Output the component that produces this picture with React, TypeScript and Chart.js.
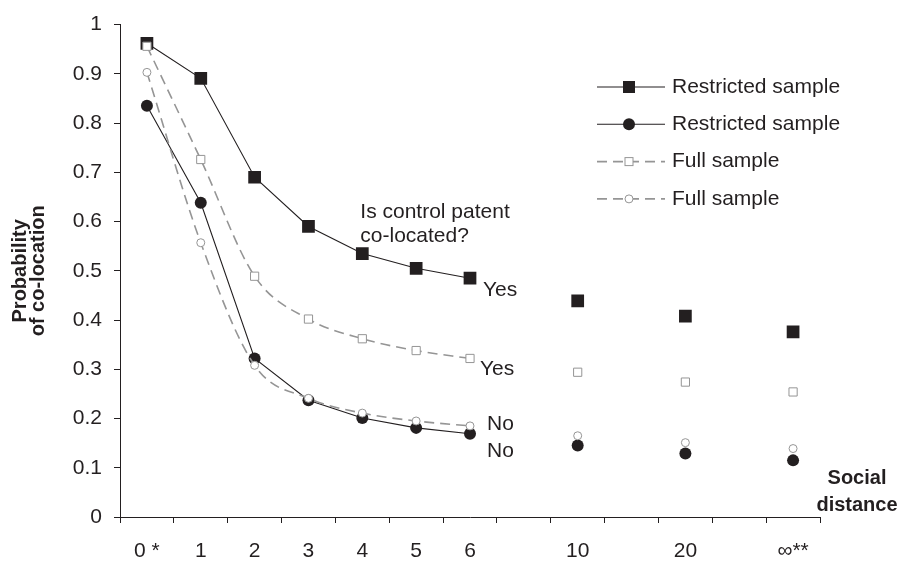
import React, { useEffect, useRef } from 'react';
import { Chart, registerables } from 'chart.js';

Chart.register(...registerables);

// social distance categories; blank entries are the breaks between 6/10/20/inf
const distanceLabels = ['0 *', '1', '2', '3', '4', '5', '6', '', '10', '', '20', '', '∞**'];

const restrictedYes = [0.962, 0.891, 0.69, 0.59, 0.535, 0.505, 0.485, null, 0.439, null, 0.408, null, 0.376];
const restrictedNo = [0.835, 0.638, 0.322, 0.237, 0.201, 0.181, 0.169, null, 0.145, null, 0.129, null, 0.115];
const fullYes = [0.956, 0.726, 0.489, 0.402, 0.362, 0.338, 0.322, null, 0.294, null, 0.274, null, 0.254];
const fullNo = [0.903, 0.557, 0.308, 0.241, 0.211, 0.195, 0.185, null, 0.165, null, 0.151, null, 0.139];

const legendLabels = ['Restricted sample', 'Restricted sample', 'Full sample', 'Full sample'];
const yTitle = ['Probability', 'of co-location'];
const xTitle = ['Social', 'distance'];
const questionText = ['Is control patent', 'co-located?'];

const FONT = "'Liberation Sans', Arial, Helvetica, sans-serif";
const INK = '#231f20';
const GREY = '#959595';
const DASH = [10, 6];

const fmtTick = (v: number | string) => String(Number(Number(v).toFixed(1)));

const drawMarker = (ctx: CanvasRenderingContext2D, kind: string, x: number, y: number) => {
  ctx.save();
  ctx.setLineDash([]);
  if (kind === 'rectFilled') {
    ctx.fillStyle = INK;
    ctx.fillRect(x - 6, y - 6, 12, 12);
  } else if (kind === 'circleFilled') {
    ctx.fillStyle = INK;
    ctx.beginPath();
    ctx.arc(x, y, 6, 0, Math.PI * 2);
    ctx.fill();
  } else if (kind === 'rectOpen') {
    ctx.fillStyle = '#fff';
    ctx.strokeStyle = GREY;
    ctx.lineWidth = 1;
    ctx.fillRect(x - 4, y - 4, 8, 8);
    ctx.strokeRect(x - 4, y - 4, 8, 8);
  } else {
    ctx.fillStyle = '#fff';
    ctx.strokeStyle = GREY;
    ctx.lineWidth = 1;
    ctx.beginPath();
    ctx.arc(x, y, 4, 0, Math.PI * 2);
    ctx.fill();
    ctx.stroke();
  }
  ctx.restore();
};

const legendMarkers = ['rectFilled', 'circleFilled', 'rectOpen', 'circleOpen'];

const textPlugin = {
  id: 'textLayer',
  afterDraw(chart: any) {
    const { ctx, chartArea } = chart;
    const xs = chart.scales.x;
    const ys = chart.scales.y;
    ctx.save();
    ctx.fillStyle = INK;
    ctx.font = `21px ${FONT}`;
    ctx.textBaseline = 'middle';
    ctx.textAlign = 'left';

    // legend
    legendLabels.forEach((label, i) => {
      const y = 87 + i * 37.3;
      const x0 = 597;
      const x1 = 665;
      ctx.save();
      if (i < 2) {
        ctx.strokeStyle = INK;
        ctx.lineWidth = 1.1;
        ctx.setLineDash([]);
      } else {
        ctx.strokeStyle = GREY;
        ctx.lineWidth = 1.6;
        ctx.setLineDash(DASH);
      }
      ctx.beginPath();
      ctx.moveTo(x0, y);
      ctx.lineTo(x1, y);
      ctx.stroke();
      ctx.restore();
      drawMarker(ctx, legendMarkers[i], 629, y);
      ctx.fillText(label, 672, y);
    });

    // annotations next to the end of each curve
    const x6 = xs.getPixelForValue(6);
    ctx.fillText('Yes', x6 + 13, ys.getPixelForValue(restrictedYes[6]) + 12);
    ctx.fillText('Yes', x6 + 10, ys.getPixelForValue(fullYes[6]) + 11);
    ctx.fillText('No', x6 + 17, ys.getPixelForValue(fullNo[6]) - 2);
    ctx.fillText('No', x6 + 17, ys.getPixelForValue(restrictedNo[6]) + 17);

    const qx = xs.getPixelForValue(4) - 2;
    ctx.fillText(questionText[0], qx, ys.getPixelForValue(0.62));
    ctx.fillText(questionText[1], qx, ys.getPixelForValue(0.57));

    // x-axis title
    ctx.font = `bold 20px ${FONT}`;
    ctx.textAlign = 'center';
    ctx.fillText(xTitle[0], chartArea.right + 37, chartArea.bottom - 39);
    ctx.fillText(xTitle[1], chartArea.right + 37, chartArea.bottom - 12);
    ctx.restore();
  },
};

const App: React.FC = () => {
  const canvasRef = useRef<HTMLCanvasElement>(null);

  useEffect(() => {
    document.body.style.margin = '0';
    if (!canvasRef.current) return;
    const solid = {
      borderColor: INK,
      borderWidth: 1.1,
      pointBackgroundColor: INK,
      pointBorderColor: INK,
      pointBorderWidth: 0,
      spanGaps: false,
      tension: 0,
      order: 1,
    };
    const dashed = {
      borderColor: GREY,
      borderWidth: 1.6,
      borderDash: DASH,
      pointBackgroundColor: '#fff',
      pointBorderColor: GREY,
      pointBorderWidth: 1,
      spanGaps: false,
      cubicInterpolationMode: 'monotone' as const,
      order: 0,
    };
    const chart = new Chart(canvasRef.current, {
      type: 'line',
      data: {
        labels: distanceLabels,
        datasets: [
          { ...solid, label: legendLabels[0], data: restrictedYes, pointStyle: 'rect', pointRadius: 9 },
          { ...solid, label: legendLabels[1], data: restrictedNo, pointStyle: 'circle', pointRadius: 6 },
          { ...dashed, label: legendLabels[2], data: fullYes, pointStyle: 'rect', pointRadius: 5.8 },
          { ...dashed, label: legendLabels[3], data: fullNo, pointStyle: 'circle', pointRadius: 4 },
        ],
      },
      options: {
        animation: false,
        responsive: true,
        maintainAspectRatio: false,
        layout: { padding: { top: 20, right: 84, left: 0, bottom: 0 } },
        plugins: {
          legend: { display: false },
          tooltip: { enabled: false },
        },
        scales: {
          x: {
            type: 'category',
            offset: true,
            grid: {
              offset: true,
              drawOnChartArea: false,
              tickLength: 6,
              color: INK,
              lineWidth: 1,
            },
            border: { display: true, color: INK, width: 1 },
            ticks: {
              color: INK,
              font: { family: FONT, size: 21 },
              padding: 16,
              autoSkip: false,
              maxRotation: 0,
            },
            afterFit: (scale: any) => {
              scale.height = 45;
            },
          },
          y: {
            min: 0,
            max: 1,
            grid: {
              drawOnChartArea: false,
              tickLength: 6,
              color: INK,
              lineWidth: 1,
            },
            border: { display: true, color: INK, width: 1 },
            ticks: {
              stepSize: 0.1,
              color: INK,
              font: { family: FONT, size: 21 },
              padding: 12,
              callback: (v: any) => fmtTick(v),
            },
            title: {
              display: true,
              text: yTitle,
              color: INK,
              font: { family: FONT, size: 20, weight: 'bold', lineHeight: 0.9 },
              padding: { top: 11, bottom: 0 },
            },
            afterFit: (scale: any) => {
              scale.width = 120;
            },
          },
        },
      },
      plugins: [textPlugin],
    });
    return () => {
      chart.destroy();
    };
  }, []);

  return (
    <div style={{ width: 904, height: 562, position: 'relative', background: '#fff' }}>
      <canvas ref={canvasRef} />
    </div>
  );
};

export default App;
